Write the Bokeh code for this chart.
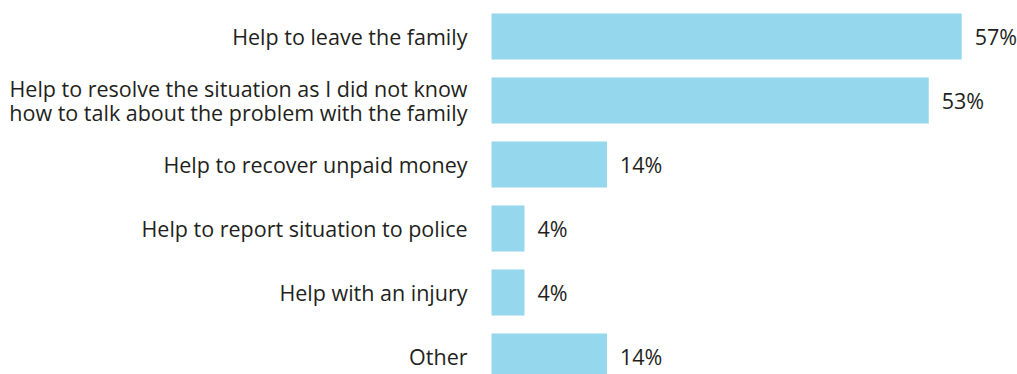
from bokeh.plotting import figure
from bokeh.models import ColumnDataSource, Range1d
from bokeh.core.properties import value
from bokeh.embed import file_html
from bokeh.resources import INLINE

# Reasons for seeking help (top to bottom) and share of respondents (%)
categories = [
    "Help to leave the family",
    "Help to resolve the situation as I did not know\nhow to talk about the problem with the family",
    "Help to recover unpaid money",
    "Help to report situation to police",
    "Help with an injury",
    "Other",
]
shares = [57, 53, 14, 4, 4, 14]
share_labels = [f"{v}%" for v in shares]

n = len(categories)
positions = [n - 1 - i for i in range(n)]  # first category on top

src = ColumnDataSource(dict(
    y=positions,
    share=shares,
    cat=categories,
    lbl=share_labels,
    zero=[0] * n,
))

FONT = "Open Sans"
TEXT_COLOR = "#231f20"
BAR_COLOR = "#95d8ee"
FONT_SIZE = "21.5px"

# Horizontal scale: 8.25 px per percentage point, bars start 491 px from the left
px_per_unit = 8.25
W, H = 1017, 374
x_start = -491 / px_per_unit
x_end = (W - 491) / px_per_unit

# Vertical scale: 64 px per category, bottom bar centred 356 px from the top
px_per_row = 64
y_top = 356 / px_per_row
y_bottom = -(H - 356) / px_per_row

p = figure(
    width=W, height=H,
    x_range=Range1d(x_start, x_end),
    y_range=Range1d(y_bottom, y_top),
    output_backend="svg",
    toolbar_location=None,
    min_border=0,
)
p.axis.visible = False
p.grid.visible = False
p.outline_line_color = None
p.background_fill_color = "white"
p.border_fill_color = "white"

p.hbar(y="y", left="zero", right="share", height=46 / px_per_row,
       source=src, fill_color=BAR_COLOR, line_color=None)

# Category names, right-aligned just left of the bars
p.text(x="zero", y="y", text="cat", source=src,
       x_offset=-24, text_align="right", text_baseline="middle",
       text_font=value(FONT), text_font_size=FONT_SIZE,
       text_color=TEXT_COLOR, text_line_height=0.8)

# Percentage values at the end of each bar
p.text(x="share", y="y", text="lbl", source=src,
       x_offset=13, text_align="left", text_baseline="middle",
       text_font=value(FONT), text_font_size=FONT_SIZE,
       text_color=TEXT_COLOR)

open("out.html", "w").write(file_html(p, INLINE))
